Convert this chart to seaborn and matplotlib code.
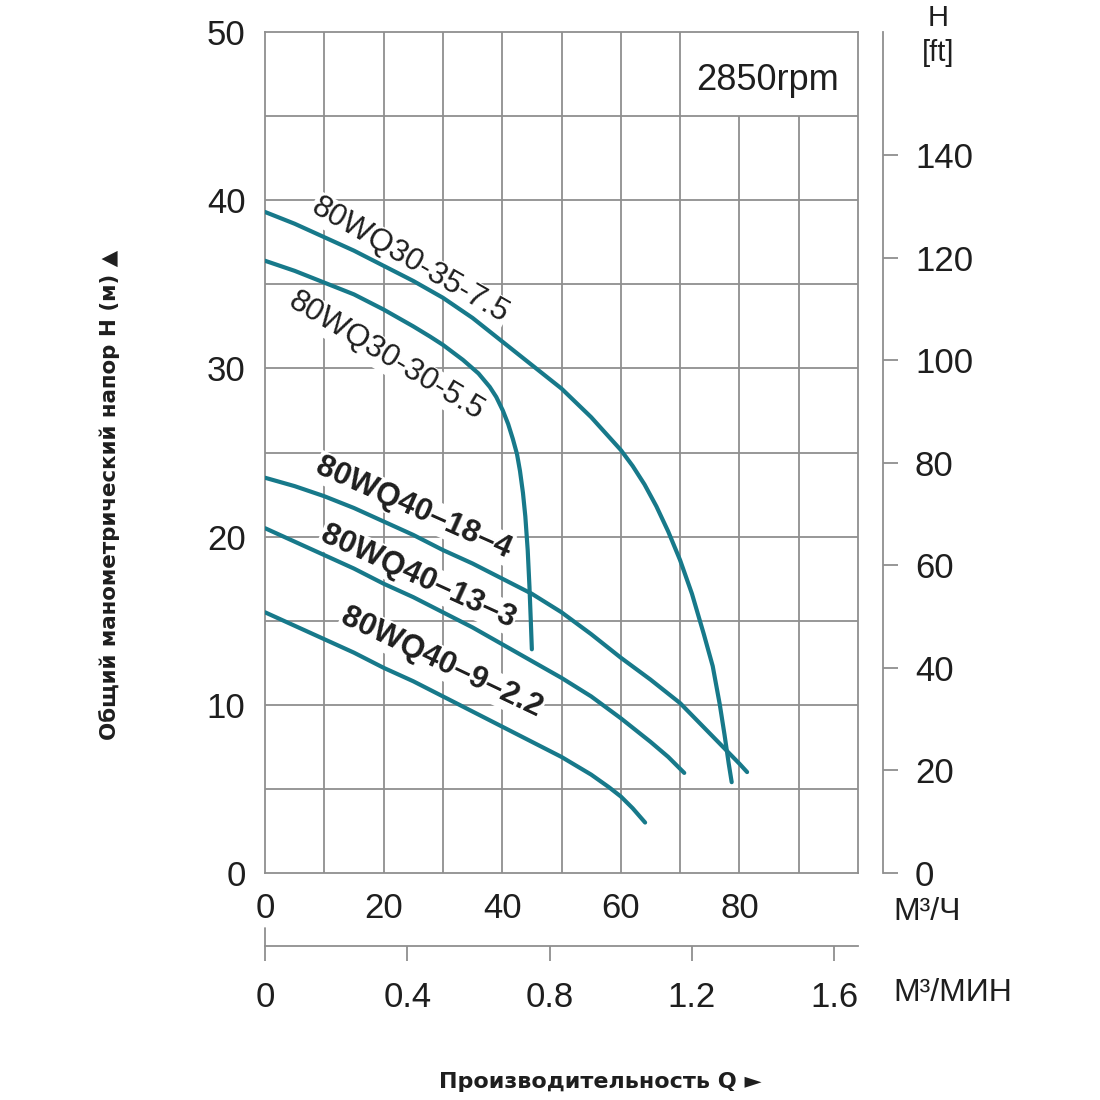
import numpy as np
import pandas as pd
import matplotlib
matplotlib.use('Agg')
import matplotlib.pyplot as plt
import matplotlib.transforms as mtransforms
import seaborn as sns

# flow Q (m3/h) and head H (m)
q_30_35 = [0, 5, 10, 15, 20, 25, 30, 35, 40, 45, 50, 55, 60, 62, 64, 66, 68, 70, 72, 74, 75.5, 76.7, 77.5, 78.2, 78.7]
h_30_35 = [39.3, 38.6, 37.8, 37.0, 36.1, 35.2, 34.2, 33.0, 31.6, 30.2, 28.8, 27.1, 25.15, 24.2, 23.1, 21.8, 20.3, 18.6, 16.6, 14.2, 12.3, 10.0, 8.2, 6.5, 5.4]

q_30_30 = [0, 5, 10, 15, 20, 25, 27.8, 30, 33.4, 36, 37.9, 39, 40.1, 41, 41.8, 42.5, 43, 43.5, 43.9, 44.3, 44.6, 44.8, 45]
h_30_30 = [36.4, 35.8, 35.1, 34.4, 33.5, 32.5, 31.9, 31.4, 30.5, 29.7, 28.9, 28.3, 27.5, 26.7, 25.8, 24.9, 23.9, 22.6, 21.2, 19.2, 17.0, 15.2, 13.3]

q_40_18 = [0, 5, 10, 15, 20, 25, 30, 35, 40, 45, 50, 55, 60, 65, 70, 75, 80, 81.3]
h_40_18 = [23.5, 23.0, 22.4, 21.7, 20.9, 20.1, 19.2, 18.4, 17.5, 16.6, 15.5, 14.2, 12.8, 11.5, 10.1, 8.3, 6.5, 6.0]

q_40_13 = [0, 5, 10, 15, 20, 25, 30, 35, 40, 45, 50, 55, 60, 65, 68, 70.7]
h_40_13 = [20.5, 19.7, 18.9, 18.1, 17.2, 16.4, 15.5, 14.6, 13.6, 12.6, 11.6, 10.5, 9.2, 7.8, 6.9, 5.95]

q_40_9 = [0, 5, 10, 15, 20, 25, 30, 35, 40, 45, 50, 55, 58, 60, 62, 64.1]
h_40_9 = [15.5, 14.7, 13.9, 13.1, 12.2, 11.4, 10.5, 9.6, 8.7, 7.8, 6.9, 5.85, 5.1, 4.55, 3.85, 3.0]

curves = [
    ("80WQ30-35-7.5", q_30_35, h_30_35),
    ("80WQ30-30-5.5", q_30_30, h_30_30),
    ("80WQ40–18–4", q_40_18, h_40_18),
    ("80WQ40–13–3", q_40_13, h_40_13),
    ("80WQ40–9–2.2", q_40_9, h_40_9),
]

# label position (Q, H), angle, weight
labels = {
    "80WQ30-35-7.5": (24.4, 36.4, -30, 'normal'),
    "80WQ30-30-5.5": (20.4, 30.7, -31, 'normal'),
    "80WQ40–18–4": (25.0, 21.7, -24, 'bold'),
    "80WQ40–13–3": (25.8, 17.6, -24.5, 'bold'),
    "80WQ40–9–2.2": (29.8, 12.5, -25.5, 'bold'),
}

x_ticks = [0, 20, 40, 60, 80]
y_ticks = [0, 10, 20, 30, 40, 50]
ft_ticks = [0, 20, 40, 60, 80, 100, 120, 140]
min_ticks = [0, 0.4, 0.8, 1.2, 1.6]

sns.set_theme(style='white')
plt.rcParams['font.family'] = ['Liberation Sans', 'DejaVu Sans']

line_color = '#17798a'
grid_color = '#8f8f8f'
text_color = '#1e1e1e'

fig = plt.figure(figsize=(11, 11), dpi=100)
ax = fig.add_axes([265 / 1100, 1 - 873 / 1100, (858 - 265) / 1100, (873 - 32) / 1100])
ax.set_xlim(0, 100)
ax.set_ylim(0, 50)

# grid: top row is left open on the right for the rpm box
ax.hlines(np.arange(5, 50, 5), 0, 100, color=grid_color, lw=1.3, zorder=1)
for gx in range(10, 100, 10):
    ax.vlines(gx, 0, 50 if gx <= 70 else 45, color=grid_color, lw=1.3, zorder=1)

for name, q, h in curves:
    df = pd.DataFrame({'Q': q, 'H': h})
    sns.lineplot(data=df, x='Q', y='H', ax=ax, color=line_color, lw=3.0,
                 estimator=None, sort=False, zorder=4, solid_joinstyle='round')
    lx, ly, rot, wt = labels[name]
    ax.text(lx, ly, name, rotation=rot, rotation_mode='anchor', ha='center', va='center',
            fontsize=22.5, fontweight=wt, color=text_color, zorder=3,
            bbox=dict(facecolor='white', edgecolor='none', pad=1.0))

ax.text(84.8, 47.1, "2850rpm", ha='center', va='center', fontsize=26, color=text_color)

for s in ax.spines.values():
    s.set_color(grid_color)
    s.set_linewidth(1.3)

ax.set_xlabel('')
ax.set_ylabel('')
ax.set_xticks(x_ticks)
ax.set_yticks(y_ticks)
ax.tick_params(axis='both', length=0, labelsize=25, colors=text_color)
ax.tick_params(axis='x', pad=14)
ax.tick_params(axis='y', pad=14)

# head in feet on the right
ax2 = ax.twinx()
ax2.set_ylim(0, 50 * 3.2808)
ax2.set_yticks(ft_ticks)
for k in ['left', 'top', 'bottom']:
    ax2.spines[k].set_visible(False)
ax2.spines['right'].set_position(('outward', 18))
ax2.spines['right'].set_color(grid_color)
ax2.spines['right'].set_linewidth(1.3)
ax2.tick_params(axis='y', direction='out', length=11, width=1.3, color=grid_color,
                labelsize=25, labelcolor=text_color, pad=12)
ax2.grid(False)

# flow in m3/min below
sec = ax.secondary_xaxis(-0.087, functions=(lambda v: v / 60, lambda v: v * 60))
sec.set_xticks(min_ticks)
sec.set_xticklabels(['0', '0.4', '0.8', '1.2', '1.6'])
sec.spines['bottom'].set_color(grid_color)
sec.spines['bottom'].set_linewidth(1.3)
sec.tick_params(axis='x', direction='out', length=11, width=1.3, color=grid_color,
                labelsize=25, labelcolor=text_color, pad=14)
trans = mtransforms.blended_transform_factory(ax.transData, ax.transAxes)
ax.plot([0, 0], [-0.065, -0.087], transform=trans, color=grid_color, lw=1.3, clip_on=False)

fig.text(893 / 1100, 1 - 912 / 1100, "М³/Ч", ha='left', va='center', fontsize=23, color=text_color)
fig.text(893 / 1100, 1 - 993 / 1100, "М³/МИН", ha='left', va='center', fontsize=23, color=text_color)
fig.text(938 / 1100, 1 - 18 / 1100, "H", ha='center', va='center', fontsize=21, color=text_color)
fig.text(938 / 1100, 1 - 53 / 1100, "[ft]", ha='center', va='center', fontsize=21, color=text_color)

fig.text(110 / 1100, 1 - 495 / 1100, "Общий манометрический напор H (м) ▲", rotation=90,
         ha='center', va='center', fontsize=15.4, fontweight='bold', family='DejaVu Sans',
         color=text_color)
fig.text(600 / 1100, 1 - 1082 / 1100, "Производительность Q ►", ha='center', va='center',
         fontsize=16, fontweight='bold', family='DejaVu Sans', color=text_color)

fig.savefig('out.png', dpi=100, facecolor='white')
